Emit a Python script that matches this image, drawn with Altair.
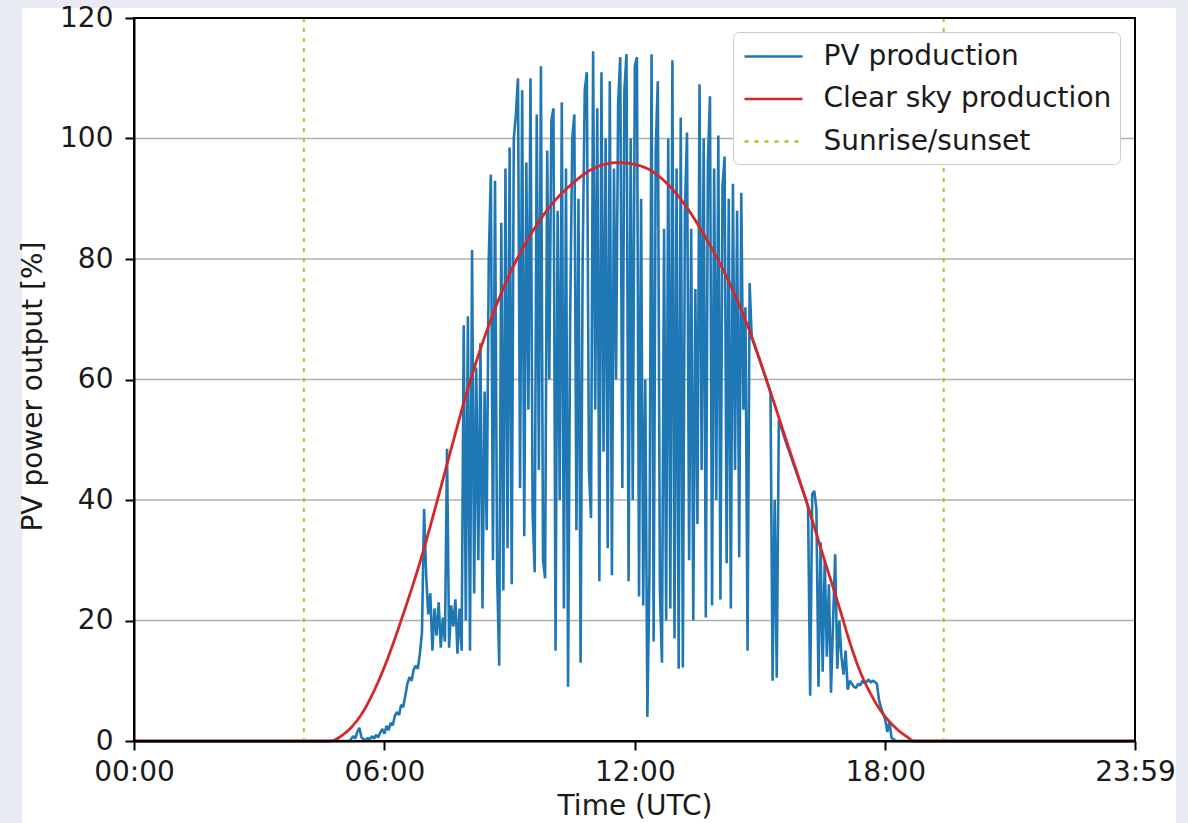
import altair as alt
import pandas as pd

# PV output in percent of rated power, one sample every 3 minutes from 05:00 to 18:30
pv_start_hour = 5.0
pv_step_hour = 0.05
pv_values = [
    # 05:00 - 06:06
    0, 0, 0, 0, 0.3, 0.8, 0.4, 1.5, 2.2, 0.6, 0.3, 0.2, 0.5, 0.3, 0.8, 0.4, 1.0, 0.6, 1.4, 2.0, 1.2, 2.5, 1.8,
    # 06:09 - 07:00
    3.0, 2.6, 4.2, 4.8, 4.3, 6.0, 5.6, 7.5, 9.5, 10.6, 10.0, 11.8, 12.5, 12.0, 14.5, 18.0, 38.5, 27.5,
    # 07:03 - 08:00
    21.0, 24.5, 15.0, 22.0, 17.5, 23.0, 15.5, 20.5, 16.5, 48.5, 15.5, 22.5, 19.0, 23.5, 14.5, 22.0, 15.0, 69.0, 20.0, 70.5,
    # 08:03 - 09:12
    15.0, 81.5, 24.5, 62.0, 30.0, 66.0, 22.0, 58.0, 35.0, 80.0, 94.0, 30.0, 93.0, 28.0, 12.5, 86.0, 25.0, 95.0, 32.0, 98.5,
    26.0, 100.0, 104.0, 110.0,
    # 09:15 - 12:51
    42, 108, 34, 96, 55, 110, 38, 28, 104, 45,
    112, 30, 27, 98, 60, 103, 105, 15, 88, 40,
    106, 22, 95, 9, 70, 100, 104, 35, 90, 13,
    80, 108, 111, 45, 37, 114.5, 55, 105, 26.5, 111,
    48, 100, 32, 109.5, 27.5, 95, 60, 106, 113.5, 42,
    108, 114, 26.5, 100, 40, 112, 113.5, 24, 90, 22.5,
    60, 4, 28, 114, 16.5, 98, 109.5, 25, 13, 85,
    20, 100, 22,
    # 12:54 - 18:18
    113, 17, 95, 12, 103.5, 12.2, 88, 101, 30, 85,
    20, 75, 36, 109, 45, 100, 20.5, 96, 107, 22.5,
    95, 40, 100.5, 23.5, 92, 97, 29.5, 90, 22, 92.5,
    45, 88, 30.5, 91, 55, 72, 15, 76, 67, 66,
    65, 64, 63, 62, 61, 60, 58.9, 57.8, 10, 40,
    10.5, 53.3, 52.2, 51.1, 50, 49, 48, 47, 46, 45,
    44, 43, 42, 41, 40, 38.9, 7.5, 41, 41.5, 38.5,
    9, 33, 11.5, 30, 14, 26, 8, 20, 31, 12,
    20, 14, 11, 15, 8.5, 10, 9.5, 9.0, 8.8, 9.5,
    9.2, 10, 9.6, 9.8, 10.2, 9.7, 10, 9.8, 9.5, 6.8,
    5.5, 4.5, 3.5, 1.5, 3.2, 0.5, 0.3, 0, 0,
]

# Modelled clear-sky output (hour of day, percent)
clear_hours = [0, 4.40, 4.70, 5.00, 5.25, 5.50, 5.75, 6.00, 6.20, 6.40, 6.93, 7.25, 7.60, 8.00, 8.50, 9.00, 9.50,
               10.00, 10.50, 11.00, 11.60, 12.20, 12.70, 13.20, 13.70, 14.20, 14.70, 15.15, 15.60, 16.10,
               16.50, 16.95, 17.10, 17.25, 17.40, 17.60, 17.80, 18.20, 18.50, 18.70, 19.00, 23 + 59 / 60]
clear_values = [0, 0, 0, 1.0, 2.6, 5.0, 8.3, 12.3, 16.0, 20, 31.5, 39.5, 48.5, 58.5, 69, 77.5, 84,
                89, 92.5, 95, 96, 95.3, 93, 89, 83.5, 77, 69, 60, 50.5, 40,
                31, 21, 17.5, 14.3, 11.5, 8.5, 6, 2.5, 0.8, 0, 0, 0]

# Sunrise and sunset (hour of day)
sun_hours = [4.07, 19.40]

series_names = ["PV production", "Clear sky production", "Sunrise/sunset"]
series_colors = ["#1f77b4", "#d62728", "#bcbd22"]
series_dashes = [[1, 0], [1, 0], [4, 6]]

x_ticks = [0, 6, 12, 18, 23 + 59 / 60]
x_tick_labels = ["00:00", "06:00", "12:00", "18:00", "23:59"]
y_ticks = [0, 20, 40, 60, 80, 100, 120]
y_grid = [20, 40, 60, 80, 100]

FONT = "DejaVu Sans"
FONT_SIZE = 28
PLOT_W, PLOT_H = 1001, 723

# ---- tables -------------------------------------------------------------
end_hour = x_ticks[-1]
pv_hours = [0.0] + [pv_start_hour + i * pv_step_hour for i in range(len(pv_values))] + [end_hour]
pv_df = pd.DataFrame({"hour": pv_hours, "value": [0.0] + pv_values + [0.0], "series": series_names[0]})
clear_df = pd.DataFrame({"hour": clear_hours, "value": clear_values, "series": series_names[1]})
sun_df = pd.DataFrame({"hour": sun_hours, "series": series_names[2]})
grid_df = pd.DataFrame({"value": y_grid})

# ---- shared encodings ---------------------------------------------------
label_expr = "''"
for t, lab in reversed(list(zip(x_ticks, x_tick_labels))):
    label_expr = f"abs(datum.value - {t}) < 0.01 ? '{lab}' : ({label_expr})"

x_axis = alt.Axis(values=x_ticks, labelExpr=label_expr, title="Time (UTC)", zindex=2,
                  labelPadding=8, titlePadding=6, labelOverlap=False, labelFlush=False)
y_axis = alt.Axis(values=y_ticks, format="d", title="PV power output [%]", zindex=2,
                  labelPadding=12, titlePadding=12, titleY=368)
x_scale = alt.Scale(domain=[0, end_hour], nice=False, zero=False)
y_scale = alt.Scale(domain=[0, 120], nice=False)

# legend key: a 58 px horizontal stroke drawn from a custom path
legend = alt.Legend(
    title=None, orient="none", legendX=599, legendY=14,
    fillColor="white", strokeColor="#cccccc", cornerRadius=6, padding=8.5,
    labelFont=FONT, labelFontSize=FONT_SIZE, labelColor="#1a1a1a", labelLimit=500,
    symbolType="M-2,0H2", symbolSize=841, symbolStrokeWidth=2.6,
    symbolOffset=16, labelOffset=34, rowPadding=12.5,
)
color = alt.Color("series:N", scale=alt.Scale(domain=series_names, range=series_colors), legend=legend)
dash = alt.StrokeDash("series:N", scale=alt.Scale(domain=series_names, range=series_dashes), legend=legend)


def xq():
    return alt.X("hour:Q", scale=x_scale, axis=x_axis)


def yq():
    return alt.Y("value:Q", scale=y_scale, axis=y_axis)


# white figure panel behind the axes
panel = alt.Chart(pd.DataFrame({"k": [0]})).mark_rect(fill="white").encode(
    x=alt.value(-112), x2=alt.value(PLOT_W + 41), y=alt.value(-10), y2=alt.value(PLOT_H + 82)
)

grid = alt.Chart(grid_df).mark_rule(color="#b0b0b0", strokeWidth=1.6).encode(y=yq())

pv_line = alt.Chart(pv_df).mark_line(strokeWidth=2.6, strokeJoin="bevel").encode(
    x=xq(), y=yq(), color=color, strokeDash=dash
)

clear_line = alt.Chart(clear_df).mark_line(strokeWidth=2.8, interpolate="monotone").encode(
    x=xq(), y=yq(), color=color, strokeDash=dash
)

sun_rules = alt.Chart(sun_df).mark_rule(strokeWidth=2).encode(x=xq(), color=color, strokeDash=dash)

frame = alt.Chart(pd.DataFrame({"k": [0]})).mark_rect(fillOpacity=0, stroke="black", strokeWidth=2).encode(
    x=alt.value(0), x2=alt.value("width"), y=alt.value(0), y2=alt.value("height")
)

chart = (
    alt.layer(panel, grid, pv_line, clear_line, sun_rules, frame)
    .properties(
        width=PLOT_W, height=PLOT_H,
        padding={"left": 134, "top": 18, "right": 53, "bottom": 82},
        autosize=alt.AutoSizeParams(type="none"),
        background="#e8ecf2",
    )
    .configure_view(strokeWidth=0)
    .configure_axis(
        grid=False,
        domainColor="black", domainWidth=2,
        tickColor="black", tickWidth=2, tickSize=9,
        labelFont=FONT, labelFontSize=FONT_SIZE, labelColor="#1a1a1a",
        titleFont=FONT, titleFontSize=FONT_SIZE, titleFontWeight="normal", titleColor="#1a1a1a",
    )
)

chart.save("out.html", embed_options={"renderer": "svg", "actions": False})
